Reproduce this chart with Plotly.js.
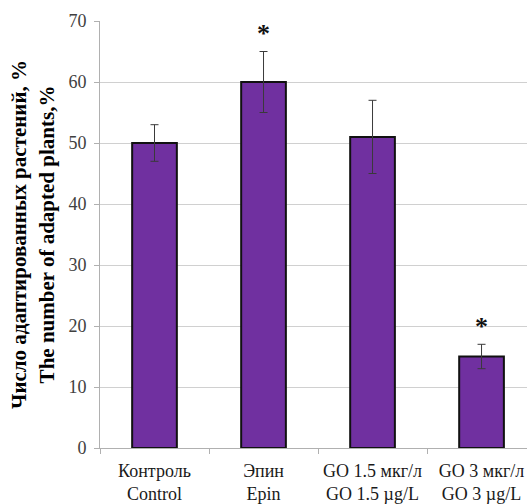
<!DOCTYPE html>
<html>
<head>
<meta charset="utf-8">
<script src="https://cdn.plot.ly/plotly-3.0.1.min.js"></script>
<style>
  html, body { margin: 0; padding: 0; background: #fff; }
  #chart { width: 527px; height: 504px; }
</style>
</head>
<body>
<div id="chart"></div>
<script>
// Adapted plants per treatment, % with error margins
const categories = [
  "Контроль<br>Control",
  "Эпин<br>Epin",
  "GO 1.5 мкг/л<br>GO 1.5 µg/L",
  "GO 3 мкг/л<br>GO 3 µg/L"
];
const values = [50, 60, 51, 15];
const errors = [3, 5, 6, 2];
// Groups marked as significantly different
const significant = [false, true, false, true];
const yTicks = [0, 10, 20, 30, 40, 50, 60, 70];

const serif = "'Liberation Serif', 'Times New Roman', serif";

const trace = {
  type: "bar",
  x: categories,
  y: values,
  width: 0.41,
  marker: { color: "#7030A0", line: { color: "#111111", width: 2 } },
  error_y: {
    type: "data",
    array: errors,
    visible: true,
    color: "#3a3a3a",
    thickness: 1,
    width: 4
  },
  hoverinfo: "skip"
};

const annotations = [];
categories.forEach((c, i) => {
  if (significant[i]) {
    annotations.push({
      x: c,
      y: values[i] + errors[i] + 3.0,
      text: "<b>*</b>",
      showarrow: false,
      xref: "x",
      yref: "y",
      yanchor: "middle",
      font: { family: serif, size: 26, color: "#111" }
    });
  }
});

const layout = {
  width: 527,
  height: 504,
  margin: { l: 100, r: 0, t: 21, b: 56 },
  paper_bgcolor: "#fff",
  plot_bgcolor: "#fff",
  showlegend: false,
  bargap: 0,
  xaxis: {
    type: "category",
    range: [-0.5, 3.417],
    tickson: "boundaries",
    ticks: "outside",
    ticklen: 5,
    tickcolor: "#b0b0b0",
    showline: true,
    linecolor: "#b0b0b0",
    linewidth: 1,
    showgrid: false,
    tickfont: { family: serif, size: 18, color: "#1a1a1a" },
    ticklabelstandoff: 6,
    fixedrange: true
  },
  yaxis: {
    range: [0, 70],
    tickvals: yTicks,
    ticks: "outside",
    ticklen: 5,
    tickcolor: "#b0b0b0",
    showline: true,
    linecolor: "#b0b0b0",
    linewidth: 1,
    gridcolor: "#d0d0d0",
    gridwidth: 1,
    zeroline: false,
    tickfont: { family: serif, size: 18, color: "#404040" },
    ticklabelstandoff: 4,
    title: {
      text: "<b>Число адаптированных растений, %<br>The number of adapted plants,%</b>",
      font: { family: serif, size: 21, color: "#000" },
      standoff: 8
    },
    fixedrange: true
  },
  annotations: annotations
};

Plotly.newPlot("chart", [trace], layout, { staticPlot: true });
</script>
</body>
</html>
